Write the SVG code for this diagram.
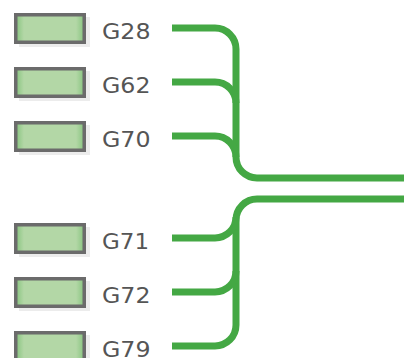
<svg xmlns="http://www.w3.org/2000/svg" width="404" height="358" viewBox="0 0 404 358">
  <defs>
    <linearGradient id="gf" x1="0" y1="0" x2="1" y2="0">
      <stop offset="0" stop-color="#86c47e"/>
      <stop offset="0.12" stop-color="#b3d7a6"/>
      <stop offset="0.88" stop-color="#b3d7a6"/>
      <stop offset="1" stop-color="#86c47e"/>
    </linearGradient>
  </defs>
  <style>
    .sh { fill: #ececec; }
    .box { fill: url(#gf); stroke: #6b6b6b; stroke-width: 3.5; }
    .lbl { font-family: "DejaVu Sans", sans-serif; font-size: 22px; fill: #555555; }
    .wire { fill: none; stroke: #44a844; stroke-width: 7; }
  </style>
  <g id="n-G28"><rect class="sh" x="19" y="17" width="71" height="30"/><rect class="box" x="15.75" y="14.75" width="68.5" height="27.5"/><text class="lbl" x="102" y="38.5" textLength="48.5" lengthAdjust="spacingAndGlyphs">G28</text></g>
  <g id="n-G62"><rect class="sh" x="19" y="71" width="71" height="30"/><rect class="box" x="15.75" y="68.75" width="68.5" height="27.5"/><text class="lbl" x="102" y="92.5" textLength="48.5" lengthAdjust="spacingAndGlyphs">G62</text></g>
  <g id="n-G70"><rect class="sh" x="19" y="125" width="71" height="30"/><rect class="box" x="15.75" y="122.75" width="68.5" height="27.5"/><text class="lbl" x="102" y="146.5" textLength="48.5" lengthAdjust="spacingAndGlyphs">G70</text></g>
  <g id="n-G71"><rect class="sh" x="19" y="227" width="71" height="30"/><rect class="box" x="15.75" y="224.75" width="68.5" height="27.5"/><text class="lbl" x="102" y="248.5" textLength="47" lengthAdjust="spacingAndGlyphs">G71</text></g>
  <g id="n-G72"><rect class="sh" x="19" y="281" width="71" height="30"/><rect class="box" x="15.75" y="278.75" width="68.5" height="27.5"/><text class="lbl" x="102" y="302.5" textLength="48.5" lengthAdjust="spacingAndGlyphs">G72</text></g>
  <g id="n-G79"><rect class="sh" x="19" y="335" width="71" height="30"/><rect class="box" x="15.75" y="332.75" width="68.5" height="27.5"/><text class="lbl" x="102" y="356.5" textLength="48.5" lengthAdjust="spacingAndGlyphs">G79</text></g>
  <g id="connectors">
    <path class="wire" d="M172,28 H215 A21,21 0 0 1 236,49 V157 A21,21 0 0 0 257,178 H404"/>
    <path class="wire" d="M172,82 H215 A21,21 0 0 1 236,103"/>
    <path class="wire" d="M172,136 H215 A21,21 0 0 1 236,157"/>
    <path class="wire" d="M404,199 H257 A21,21 0 0 0 236,220 V325 A21,21 0 0 1 215,346 H172"/>
    <path class="wire" d="M172,238 H215 A21,21 0 0 0 236,217"/>
    <path class="wire" d="M172,292 H215 A21,21 0 0 0 236,271"/>
  </g>
</svg>
